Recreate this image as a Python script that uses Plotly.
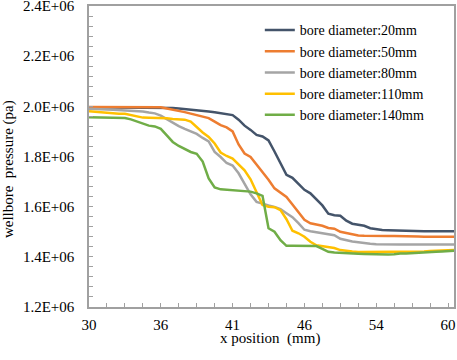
import plotly.graph_objects as go

# x categories: index of mesh position; labelled every 12th point
x_index = list(range(62))
x_tick_index = [0, 12, 24, 36, 48, 60]
x_tick_labels = ["30", "36", "41", "46", "54", "60"]

y_tick_values = [1.2e6, 1.4e6, 1.6e6, 1.8e6, 2.0e6, 2.2e6, 2.4e6]
y_tick_labels = ["1.2E+06", "1.4E+06", "1.6E+06", "1.8E+06", "2.0E+06", "2.2E+06", "2.4E+06"]

series_names = ["bore diameter:20mm", "bore diameter:50mm", "bore diameter:80mm",
                "bore diameter:110mm", "bore diameter:140mm"]

# values in units of 1E6 Pa
p_20mm = [1.996, 1.996, 1.996, 1.996, 1.996, 1.996, 1.996, 1.996, 1.996, 1.996,
          1.996, 1.996, 1.995, 1.994, 1.993, 1.991, 1.989, 1.987, 1.985, 1.982,
          1.979, 1.976, 1.973, 1.971, 1.965, 1.947, 1.923, 1.906, 1.886, 1.880,
          1.864, 1.820, 1.776, 1.727, 1.715, 1.693, 1.667, 1.653, 1.631, 1.605,
          1.572, 1.566, 1.564, 1.544, 1.532, 1.527, 1.524, 1.514, 1.509, 1.507,
          1.506, 1.505, 1.504, 1.503, 1.503, 1.502, 1.502, 1.502, 1.502, 1.502,
          1.502, 1.502]
p_50mm = [1.997, 1.997, 1.997, 1.997, 1.997, 1.997, 1.997, 1.997, 1.997, 1.997,
          1.997, 1.997, 1.996, 1.991, 1.987, 1.983, 1.977, 1.971, 1.965, 1.959,
          1.953, 1.939, 1.925, 1.916, 1.900, 1.848, 1.812, 1.798, 1.768, 1.737,
          1.707, 1.673, 1.655, 1.639, 1.609, 1.580, 1.548, 1.534, 1.530, 1.524,
          1.515, 1.512, 1.500, 1.494, 1.488, 1.485, 1.484, 1.483, 1.483, 1.483,
          1.483, 1.483, 1.483, 1.481, 1.481, 1.481, 1.480, 1.480, 1.480, 1.480,
          1.480, 1.480]
p_80mm = [1.990, 1.990, 1.988, 1.987, 1.986, 1.985, 1.984, 1.983, 1.981, 1.979,
          1.975, 1.972, 1.963, 1.949, 1.933, 1.921, 1.910, 1.900, 1.890, 1.874,
          1.860, 1.818, 1.798, 1.774, 1.764, 1.733, 1.691, 1.649, 1.619, 1.611,
          1.605, 1.599, 1.590, 1.574, 1.558, 1.534, 1.508, 1.502, 1.498, 1.494,
          1.490, 1.486, 1.472, 1.465, 1.461, 1.458, 1.454, 1.452, 1.450, 1.449,
          1.449, 1.449, 1.449, 1.449, 1.449, 1.449, 1.449, 1.449, 1.449, 1.449,
          1.449, 1.449]
p_110mm = [1.980, 1.978, 1.975, 1.972, 1.970, 1.970, 1.970, 1.965, 1.957, 1.955,
           1.954, 1.954, 1.954, 1.952, 1.950, 1.949, 1.947, 1.939, 1.916, 1.896,
           1.878, 1.852, 1.816, 1.802, 1.792, 1.768, 1.745, 1.709, 1.661, 1.607,
           1.600, 1.598, 1.586, 1.550, 1.504, 1.494, 1.480, 1.460, 1.446, 1.442,
           1.440, 1.435, 1.427, 1.423, 1.421, 1.419, 1.419, 1.419, 1.419, 1.419,
           1.419, 1.419, 1.419, 1.419, 1.419, 1.420, 1.421, 1.423, 1.424, 1.425,
           1.426, 1.427]
p_140mm = [1.956, 1.956, 1.955, 1.955, 1.954, 1.953, 1.953, 1.948, 1.939, 1.929,
           1.923, 1.920, 1.910, 1.884, 1.858, 1.842, 1.830, 1.818, 1.811, 1.780,
           1.713, 1.677, 1.669, 1.667, 1.665, 1.663, 1.662, 1.660, 1.653, 1.643,
           1.514, 1.500, 1.466, 1.444, 1.444, 1.444, 1.444, 1.443, 1.443, 1.432,
           1.420, 1.417, 1.415, 1.415, 1.413, 1.412, 1.411, 1.410, 1.409, 1.409,
           1.409, 1.410, 1.413, 1.413, 1.415, 1.416, 1.417, 1.419, 1.420, 1.421,
           1.423, 1.424]

series_values = [p_20mm, p_50mm, p_80mm, p_110mm, p_140mm]
colors = ["#44546A", "#ED7D31", "#A5A5A5", "#FFC000", "#70AD47"]

FONT = "Liberation Serif, Times New Roman, serif"
AX = "#a0a0a0"

fig = go.Figure()
for name, vals, c in zip(series_names, series_values, colors):
    fig.add_trace(go.Scatter(x=x_index, y=[v * 1e6 for v in vals], mode="lines",
                             name=name, line=dict(color=c, width=2.5)))

fig.update_layout(
    width=457, height=360,
    margin=dict(l=89, r=3, t=6, b=53, autoexpand=False),
    paper_bgcolor="white", plot_bgcolor="white",
    font=dict(family=FONT, size=15, color="black"),
    showlegend=True,
    legend=dict(x=0.468, y=0.972, xanchor="left", yanchor="top",
                bgcolor="rgba(0,0,0,0)", font=dict(family=FONT, size=14, color="black"),
                tracegroupgap=0),
    xaxis=dict(range=[0, 61], tickmode="array", tickvals=x_tick_index, ticktext=x_tick_labels,
               automargin=False, ticklabeloverflow="allow",
               showgrid=False, zeroline=False, showline=True, linecolor=AX, linewidth=1.5,
               mirror=True, ticks="inside", ticklen=4, tickcolor=AX, ticklabelstandoff=3,
               minor=dict(tick0=0, dtick=3, ticks="inside", ticklen=4, tickcolor=AX, showgrid=False),
               tickfont=dict(family=FONT, size=15, color="black")),
    yaxis=dict(range=[1.2e6, 2.4e6], tickmode="array", tickvals=y_tick_values, ticktext=y_tick_labels,
               automargin=False, ticklabeloverflow="allow",
               showgrid=False, zeroline=False, showline=True, linecolor=AX, linewidth=1.5,
               mirror=True, ticks="inside", ticklen=4, tickcolor=AX, ticklabelstandoff=10,
               minor=dict(tick0=1.2e6, dtick=40000, ticks="inside", ticklen=4, tickcolor=AX, showgrid=False),
               tickfont=dict(family=FONT, size=15, color="black")),
    annotations=[
        dict(text="x position\u00a0\u00a0(mm)", xref="paper", yref="paper", x=0.496, y=-0.106,
             xanchor="center", yanchor="middle", showarrow=False,
             font=dict(family=FONT, size=15, color="black")),
        dict(text="wellbore\u00a0\u00a0pressure (pa)", xref="paper", yref="paper", x=-0.222, y=0.458,
             xanchor="center", yanchor="middle", textangle=-90, showarrow=False,
             font=dict(family=FONT, size=15, color="black")),
    ],
)

fig.write_html("out.html", config={"displayModeBar": False},
               post_script="document.body.style.margin='0';document.body.style.padding='0';")
